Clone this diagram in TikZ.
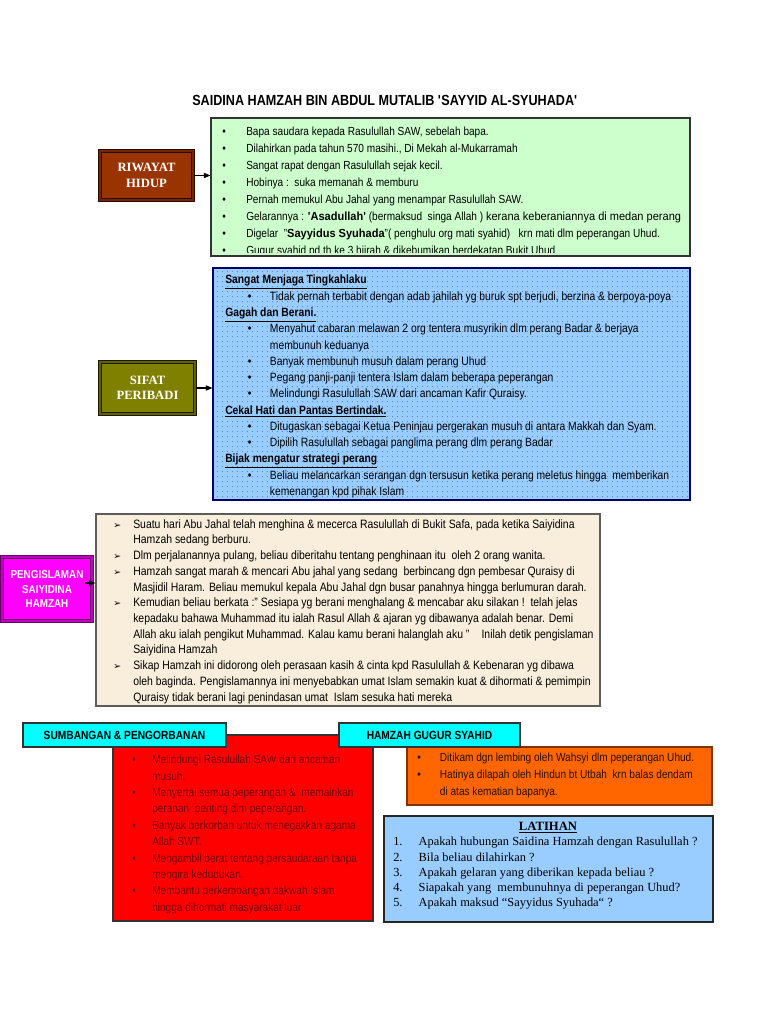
\documentclass[tikz,border=0pt]{standalone}
\usepackage{fontspec}
\setmainfont{Liberation Sans}[FakeStretch=0.86]
\newfontfamily\lebar{Liberation Sans}[FakeStretch=0.94]
\newfontfamily\timesfont{Liberation Serif}
\newfontfamily\symfont{DejaVu Sans}
\usetikzlibrary{arrows.meta, positioning, patterns.meta}

\definecolor{hijaumuda}{HTML}{CCFFCC}
\definecolor{birumuda}{HTML}{99CCFF}
\definecolor{titik}{HTML}{5C85B8}
\definecolor{perang}{HTML}{993300}
\definecolor{zaitun}{HTML}{808000}
\definecolor{krim}{HTML}{F8EEDB}
\definecolor{ungu}{HTML}{FF00FF}
\definecolor{sian}{HTML}{00FFFF}
\definecolor{merah}{HTML}{FF0000}
\definecolor{merahtua}{HTML}{700000}
\definecolor{oren}{HTML}{FF6600}
\definecolor{garis}{HTML}{333333}

\newcommand{\bul}[2][18pt]{\makebox[#1][l]{\textbullet}#2}
\newcommand{\anak}[1]{\hspace*{17pt}\bul[16.5pt]{#1}}
\newcommand{\sambung}[1]{\hspace*{33.5pt}#1}
\newcommand{\panah}[1]{\makebox[15pt][l]{\symfont\fontsize{7}{8}\selectfont ➢}#1}
\newcommand{\sq}{\textquotesingle}

\begin{document}
\begin{tikzpicture}[x=0.75pt, y=-0.75pt,
    kotak/.style={rectangle, draw=#1, line width=0.8pt, inner sep=0pt},
    dwi/.style 2 args={rectangle, draw=#1, fill=#2, double=#2!75!black, double distance=1.1pt, line width=0.9pt, inner sep=0pt, align=center, text=white},
    tajuk/.style={rectangle, draw=garis, fill=sian, line width=0.8pt, inner sep=0pt, minimum width=#1, minimum height=18pt, font=\bfseries\fontsize{8.9}{10}\selectfont},
    teks/.style={anchor=north west, inner sep=0pt, align=left, font=\fontsize{8.8}{#1}\selectfont},
    arr/.style={-{Triangle[length=5pt, width=4pt]}, line width=0.8pt, black}
]
\useasboundingbox (0,0) rectangle (768,1024);
\fill[white] (0,0) rectangle (768,1024);

\node[font=\bfseries\fontsize{11}{13}\selectfont] (judul) at (385,100) {SAIDINA HAMZAH BIN ABDUL MUTALIB \sq SAYYID AL-SYUHADA\sq};

% Riwayat hidup
\node[kotak=garis, fill=hijaumuda, minimum width=359.25pt, minimum height=103.5pt] (hijau) at (450.5,187) {};
\node[dwi={black!75!perang}{perang}, minimum width=69.75pt, minimum height=36.75pt, font=\timesfont\bfseries\fontsize{9.5}{11.5}\selectfont] (riwayat) at (146.5,175.5) {RIWAYAT\\HIDUP};
\begin{scope}
\clip (hijau.north west) rectangle ([yshift=3pt]hijau.south east);
\node[teks=12.75pt] (tekshijau) at (222,127) {%
\bul{Bapa saudara kepada Rasulullah SAW, sebelah bapa.}\\
\bul{Dilahirkan pada tahun 570 masihi., Di Mekah al-Mukarramah}\\
\bul{Sangat rapat dengan Rasulullah sejak kecil.}\\
\bul{Hobinya :\ \ suka memanah \& memburu}\\
\bul{Pernah memukul Abu Jahal yang menampar Rasulullah SAW.}\\
\bul{Gelarannya : {\lebar\bfseries\sq Asadullah\sq} (bermaksud\ \ singa Allah ) {\lebar kerana keberaniannya di medan perang}}\\
\bul{Digelar\ \ "{\lebar\bfseries Sayyidus Syuhada}"( penghulu org mati syahid)\ \ \ krn mati dlm peperangan Uhud.}\\
\bul{Gugur syahid pd th ke 3 hijrah \& dikebumikan berdekatan Bukit Uhud}};
\end{scope}
\draw[arr] (riwayat) -- (riwayat -| hijau.west);

% Sifat peribadi
\node[kotak=black!60!blue, fill=birumuda, minimum width=357.75pt, minimum height=174pt,
  postaction={pattern={Dots[distance=4pt, radius=0.45pt]}, pattern color=titik}] (biru) at (451.5,384) {};
\node[dwi={black!80!zaitun}{zaitun}, minimum width=71.25pt, minimum height=39pt, font=\timesfont\bfseries\fontsize{9.5}{11.5}\selectfont] (sifat) at (147.5,388) {SIFAT\\PERIBADI};
\node[teks=12.2pt, font=\fontsize{9}{12.2}\selectfont] (teksbiru) at (225,275) {%
\textbf{\underline{Sangat Menjaga Tingkahlaku}}\\
\anak{Tidak pernah terbabit dengan adab jahilah yg buruk spt berjudi, berzina \& berpoya-poya}\\
\textbf{\underline{Gagah dan Berani.}}\\
\anak{Menyahut cabaran melawan 2 org tentera musyrikin dlm perang Badar \& berjaya}\\
\sambung{membunuh keduanya}\\
\anak{Banyak membunuh musuh dalam perang Uhud}\\
\anak{Pegang panji-panji tentera Islam dalam beberapa peperangan}\\
\anak{Melindungi Rasulullah SAW dari ancaman Kafir Quraisy.}\\
\textbf{\underline{Cekal Hati dan Pantas Bertindak.}}\\
\anak{Ditugaskan sebagai Ketua Peninjau pergerakan musuh di antara Makkah dan Syam.}\\
\anak{Dipilih Rasulullah sebagai panglima perang dlm perang Badar}\\
\textbf{\underline{Bijak mengatur strategi perang}}\\
\anak{Beliau melancarkan serangan dgn tersusun ketika perang meletus hingga\ \ memberikan}\\
\sambung{kemenangan kpd pihak Islam}};
\draw[arr] (sifat) -- (sifat -| biru.west);

% Pengislaman
\node[kotak=garis!80, fill=krim, minimum width=378pt, minimum height=144pt] (krim) at (348,610) {};
\node[dwi={black!60!ungu}{ungu}, minimum width=67.5pt, minimum height=48pt, font=\bfseries\fontsize{8.6}{11.2}\selectfont] (islam) at (47,589) {PENGISLAMAN\\SAIYIDINA\\HAMZAH};
\node[teks=11.8pt, font=\fontsize{9.1}{11.8}\selectfont] (tekskrim) at (113,519) {%
\panah{Suatu hari Abu Jahal telah menghina \& mecerca Rasulullah di Bukit Safa, pada ketika Saiyidina}\\
\hspace*{15pt}Hamzah sedang berburu.\\
\panah{Dlm perjalanannya pulang, beliau diberitahu tentang penghinaan itu\ \ oleh 2 orang wanita.}\\
\panah{Hamzah sangat marah \& mencari Abu jahal yang sedang\ \ berbincang dgn pembesar Quraisy di}\\
\hspace*{15pt}Masjidil Haram. Beliau memukul kepala Abu Jahal dgn busar panahnya hingga berlumuran darah.\\
\panah{Kemudian beliau berkata :" Sesiapa yg berani menghalang \& mencabar aku silakan !\ \ telah jelas}\\
\hspace*{15pt}kepadaku bahawa Muhammad itu ialah Rasul Allah \& ajaran yg dibawanya adalah benar. Demi\\
\hspace*{15pt}Allah aku ialah pengikut Muhammad. Kalau kamu berani halanglah aku "\quad Inilah detik pengislaman\\
\hspace*{15pt}Saiyidina Hamzah\\
\panah{Sikap Hamzah ini didorong oleh perasaan kasih \& cinta kpd Rasulullah \& Kebenaran yg dibawa}\\
\hspace*{15pt}oleh baginda. Pengislamannya ini menyebabkan umat Islam semakin kuat \& dihormati \& pemimpin\\
\hspace*{15pt}Quraisy tidak berani lagi penindasan umat\ \ Islam sesuka hati mereka};
\draw[arr] ([xshift=-6pt, yshift=4.5pt]islam.east) -- ([yshift=4.5pt]islam.east -| krim.west);

% Sumbangan dan gugur syahid
\node[kotak=garis, fill=merah, minimum width=195pt, minimum height=139.5pt] (merah) at (243,828) {};
\node[tajuk=152.25pt] (sumbangan) at (124.5,735) {SUMBANGAN \& PENGORBANAN};
\node[teks=12.3pt, text=merahtua] (teksmerah) at (132,755) {%
\bul[15pt]{Melindungi Rasulullah SAW dari ancaman}\\
\hspace*{15pt}musuh.\\
\bul[15pt]{Menyertai semua peperangan \&\ \ memainkan}\\
\hspace*{15pt}peranan\ \ penting dlm peperangan.\\
\bul[15pt]{Banyak berkorban untuk menegakkan agama}\\
\hspace*{15pt}Allah SWT.\\
\bul[15pt]{Mengambil berat tentang persaudaraan tanpa}\\
\hspace*{15pt}mengira kedudukan.\\
\bul[15pt]{Membantu perkembangan dakwah Islam}\\
\hspace*{15pt}hingga dihormati masyarakat luar};

\node[kotak=black!50!oren, fill=oren, minimum width=228.75pt, minimum height=43.5pt] (oren) at (559.5,776) {};
\node[tajuk=135.75pt] (gugur) at (429.5,735) {HAMZAH GUGUR SYAHID};
\node[teks=12.7pt, text=black!85!oren] (teksoren) at (417,753) {%
\bul[17pt]{Ditikam dgn lembing oleh Wahsyi dlm peperangan Uhud.}\\
\bul[17pt]{Hatinya dilapah oleh Hindun bt Utbah\ \ krn balas dendam}\\
\hspace*{17pt}di atas kematian bapanya.};

% Latihan
\node[kotak=black!85, fill=birumuda, line width=1.6pt, minimum width=246.75pt, minimum height=79.5pt] (latihan) at (548.5,869) {};
\node[font=\timesfont\bfseries\fontsize{9.5}{11}\selectfont, inner sep=0pt] (tajuklatihan) at (548,828) {\underline{LATIHAN}};
\node[teks=11.4pt, font=\timesfont\fontsize{9.3}{11.4}\selectfont] (tekslatihan) at (393,837) {%
\makebox[19pt][l]{1.}Apakah hubungan Saidina Hamzah dengan Rasulullah ?\\
\makebox[19pt][l]{2.}Bila beliau dilahirkan ?\\
\makebox[19pt][l]{3.}Apakah gelaran yang diberikan kepada beliau ?\\
\makebox[19pt][l]{4.}Siapakah yang\ \ membunuhnya di peperangan Uhud?\\
\makebox[19pt][l]{5.}Apakah maksud “Sayyidus Syuhada“ ?};

\end{tikzpicture}
\end{document}
